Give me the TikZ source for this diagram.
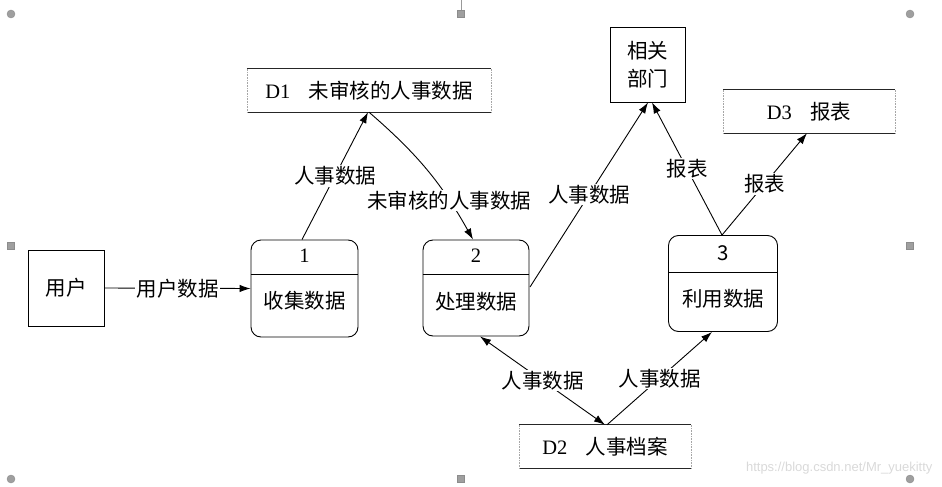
\documentclass[tikz,border=0pt]{standalone}
\usepackage{fontspec}
\setmainfont{Liberation Serif}
\newfontfamily\cjk{Noto Sans CJK SC}
\newfontfamily\wmfont{Liberation Sans}
\usetikzlibrary{arrows.meta}
\newcommand\zh[1]{{\cjk #1}}

\tikzset{
  txt/.style={font=\fontsize{20.5}{28}\selectfont},
  ext/.style={draw, line width=0.9pt, minimum width=76pt, minimum height=76pt, inner sep=0pt, txt, align=center},
  proc/.style={draw, rounded corners=10pt, line width=0.9pt, inner sep=0pt},
  store/.style={inner sep=0pt, txt},
  storeedge/.style={line width=1.3pt, black!85},
  storeside/.style={densely dotted, line width=0.6pt, gray!70},
  lab/.style={fill=white, inner sep=1.2pt, txt},
  flow/.style={line width=0.9pt, -{Latex[length=11pt,width=7.5pt]}},
  biflow/.style={line width=0.9pt, {Latex[length=11pt,width=7.5pt]}-{Latex[length=11pt,width=7.5pt]}},
  handle/.style={fill=gray!75, draw=gray!90, line width=0.4pt},
}

\begin{document}
\begin{tikzpicture}[x=1pt,y=-1pt]
\useasboundingbox (0,0) rectangle (942,487);

% selection handles
\draw[gray!80, line width=0.5pt] (461,0) -- (461,10);
\foreach \p/\q in {11/14, 910/14, 11/479, 910/479}
  \filldraw[handle] (\p,\q) circle (4);
\foreach \p/\q in {461/14, 11/246, 910/246, 461/479}
  \filldraw[handle] (\p-3.5,\q-3.5) rectangle (\p+3.5,\q+3.5);

% external entities
\node[ext] (user) at (66,288) {\zh{用户}};
\node[ext, minimum width=75pt, minimum height=75pt] (dept) at (647.5,64.5) {\zh{相关}\\\zh{部门}};

% processes
\node[proc, minimum width=107pt, minimum height=97pt] (p1) at (304.5,288.5) {};
\draw[line width=0.8pt] (p1.west |- 0,274) -- (p1.east |- 0,274);
\node[txt] (p1n) at (304.5,256) {1};
\node[txt] (p1t) at (304.5,301) {\zh{收集数据}};

\node[proc, minimum width=106pt, minimum height=96pt] (p2) at (476,288) {};
\draw[line width=0.8pt] (p2.west |- 0,274) -- (p2.east |- 0,274);
\node[txt] (p2n) at (476,256) {2};
\node[txt] (p2t) at (476,302) {\zh{处理数据}};

\node[proc, minimum width=109pt, minimum height=96pt] (p3) at (723,283.5) {};
\draw[line width=0.8pt] (p3.west |- 0,272) -- (p3.east |- 0,272);
\node[txt] (p3n) at (723,253) {\zh{3}};
\node[txt] (p3t) at (723,299) {\zh{利用数据}};

% data stores
\node[store, minimum width=244pt, minimum height=43pt] (d1) at (369,90.5) {D1\hspace{0.9em}\zh{未审核的人事数据}};
\node[store, minimum width=172pt, minimum height=43pt] (d3) at (809,111.5) {D3\hspace{0.9em}\zh{报表}};
\node[store, minimum width=172pt, minimum height=43pt] (d2) at (605,446.5) {D2\hspace{0.9em}\zh{人事档案}};
\foreach \s in {d1,d2,d3}{
  \draw[storeedge] (\s.north west) -- (\s.north east);
  \draw[storeedge] (\s.south west) -- (\s.south east);
  \draw[storeside] (\s.north west) -- (\s.south west);
  \draw[storeside] (\s.north east) -- (\s.south east);
}

% flows
\draw[flow] (user.east) -- node[lab] {\zh{用户数据}} (p1.west);
\draw[flow] (302,0 |- p1.north) -- node[lab] {\zh{人事数据}} (368,0 |- d1.south);
\draw[flow] (369,0 |- d1.south) to[bend left=10] node[lab, pos=0.74] {\zh{未审核的人事数据}} (473,0 |- p2.north);
\draw[flow] (530,287) -- node[lab] {\zh{人事数据}} (648,0 |- dept.south);
\draw[flow] (722,0 |- p3.north) -- node[lab] {\zh{报表}} (652,0 |- dept.south);
\draw[flow] (722,0 |- p3.north) -- node[lab] {\zh{报表}} (807,0 |- d3.south);
\draw[biflow] (605,0 |- d2.north) -- node[lab] {\zh{人事数据}} (480,0 |- p2.south);
\draw[flow] (607,0 |- d2.north) -- node[lab] {\zh{人事数据}} (712,0 |- p3.south);

% watermark
\node[text=gray!30, font=\wmfont\fontsize{13}{15}\selectfont, anchor=east] (wm) at (936,468) {https://blog.csdn.net/Mr\_yuekitty};
\end{tikzpicture}
\end{document}
